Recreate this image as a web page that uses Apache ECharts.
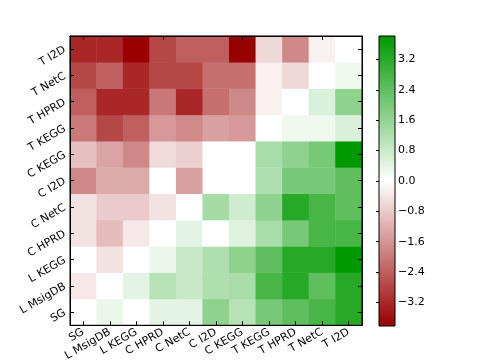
<!DOCTYPE html>
<html>
<head>
<meta charset="utf-8">
<script src="https://cdn.jsdelivr.net/npm/echarts@6/dist/echarts.min.js"></script>
<style>
  html, body { margin: 0; padding: 0; background: #fff; }
  #chart { width: 485px; height: 363px; }
</style>
</head>
<body>
<div id="chart"></div>
<script>
// categories, same order left->right on x and bottom->top on y
const labels = ["SG", "L MsigDB", "L KEGG", "C HPRD", "C NetC", "C I2D", "C KEGG", "T KEGG", "T HPRD", "T NetC", "T I2D"];

// one row per y category, values read left to right
const rowSG      = [0, 0.3, 0, 0.4, 0.4, 1.7, 1.1, 2.03, 2.39, 2.75, 3.23];
const rowLMsigDB = [-0.35, 0, 0.4, 1.1, 0.83, 1.2, 1.3, 2.75, 3.23, 2.39, 3.23];
const rowLKEGG   = [0, -0.44, 0, 0.3, 0.83, 1.2, 1.7, 2.39, 3.23, 3.23, 3.82];
const rowCHPRD   = [-0.44, -1.0, -0.35, 0, 0.4, 0, 0.5, 1.3, 2.03, 2.75, 2.75];
const rowCNetC   = [-0.44, -0.8, -0.8, -0.44, 0, 1.35, 0.7, 1.67, 3.23, 2.75, 2.39];
const rowCI2D    = [-1.79, -1.28, -1.28, 0, -1.43, 0, 0, 1.2, 2.03, 2.03, 2.39];
const rowCKEGG   = [-0.95, -1.37, -1.79, -0.55, -0.7, 0, 0, 1.3, 1.67, 2.03, 3.82];
const rowTKEGG   = [-2.0, -2.75, -2.39, -1.55, -1.75, -1.43, -1.55, 0, 0.22, 0.22, 0.55];
const rowTHPRD   = [-2.39, -3.23, -3.23, -2.03, -3.23, -2.15, -1.79, -0.23, 0, 0.55, 1.7];
const rowTNetC   = [-2.75, -2.39, -3.23, -2.75, -2.75, -2.15, -2.15, -0.23, -0.59, 0, 0.22];
const rowTI2D    = [-3.23, -3.23, -3.82, -2.75, -2.39, -2.39, -3.82, -0.59, -1.79, -0.23, 0];

const rows = [rowSG, rowLMsigDB, rowLKEGG, rowCHPRD, rowCNetC, rowCI2D, rowCKEGG, rowTKEGG, rowTHPRD, rowTNetC, rowTI2D];

const colorbarTicks = [-3.2, -2.4, -1.6, -0.8, 0, 0.8, 1.6, 2.4, 3.2];
const vMin = -3.82;
const vMax = 3.82;
const cmap = ["#990000", "#ffffff", "#009900"];

const cells = [];
rows.forEach((row, y) => {
  row.forEach((v, x) => cells.push([x, y, v]));
});

const font = { fontFamily: "DejaVu Sans", fontSize: 11, color: "#000" };
const tickInside = { show: true, inside: true, length: 4, alignWithLabel: true, lineStyle: { color: "#000" } };
const edge = { show: true, lineStyle: { color: "#000", width: 1 } };

// colorbar: one rect spanning vMin..vMax on the colorbar axis
const renderColorbar = (params, api) => {
  const top = api.coord([0, vMax]);
  const bottom = api.coord([0, vMin]);
  const rect = params.coordSys;
  return {
    type: "rect",
    shape: { x: rect.x, y: top[1], width: rect.width, height: bottom[1] - top[1] },
    style: {
      fill: new echarts.graphic.LinearGradient(0, 0, 0, 1, [
        { offset: 0, color: cmap[2] },
        { offset: 0.5, color: cmap[1] },
        { offset: 1, color: cmap[0] }
      ])
    }
  };
};

const chart = echarts.init(document.getElementById("chart"));
chart.setOption({
  animation: false,
  backgroundColor: "#fff",
  grid: [
    { left: 70, top: 36, width: 292, height: 290, show: true, borderColor: "#000", borderWidth: 1, z: 5, backgroundColor: "transparent" },
    { left: 379, top: 36, width: 16, height: 290, show: true, borderColor: "#000", borderWidth: 1, z: 5, backgroundColor: "transparent" }
  ],
  xAxis: [
    {
      type: "category", data: labels, gridIndex: 0, position: "bottom",
      axisLine: edge, axisTick: tickInside, splitLine: { show: false },
      axisLabel: Object.assign({ rotate: 30, interval: 0, margin: 6 }, font), z: 6
    },
    {
      type: "category", data: labels, gridIndex: 0, position: "top",
      axisLine: edge, axisTick: tickInside, axisLabel: { show: false }, z: 6
    },
    {
      type: "value", gridIndex: 1, min: 0, max: 1,
      axisLine: { show: false }, axisTick: { show: false }, axisLabel: { show: false }, splitLine: { show: false }
    }
  ],
  yAxis: [
    {
      type: "category", data: labels, gridIndex: 0, position: "left",
      axisLine: edge, axisTick: tickInside, splitLine: { show: false },
      axisLabel: Object.assign({ rotate: 30, interval: 0, margin: 5 }, font), z: 6
    },
    {
      type: "category", data: labels, gridIndex: 0, position: "right",
      axisLine: edge, axisTick: tickInside, axisLabel: { show: false }, z: 6
    },
    {
      type: "value", gridIndex: 1, min: vMin, max: vMax, position: "right",
      axisLine: { show: false }, splitLine: { show: false },
      axisTick: { show: true, inside: true, length: 3, customValues: colorbarTicks, lineStyle: { color: "#000" } },
      axisLabel: Object.assign({
        margin: 3, customValues: colorbarTicks,
        formatter: v => (v < 0 ? "\u2212" : "") + Math.abs(v).toFixed(1)
      }, font), z: 6
    }
  ],
  visualMap: {
    type: "continuous", min: vMin, max: vMax, seriesIndex: 0, show: false,
    inRange: { color: cmap }
  },
  series: [
    {
      type: "heatmap", xAxisIndex: 0, yAxisIndex: 0, data: cells,
      itemStyle: { borderWidth: 0 }, emphasis: { disabled: true }
    },
    {
      type: "custom", xAxisIndex: 2, yAxisIndex: 2, data: [[0, vMin, vMax]],
      renderItem: renderColorbar, silent: true, z: 1
    }
  ]
});
</script>
</body>
</html>
